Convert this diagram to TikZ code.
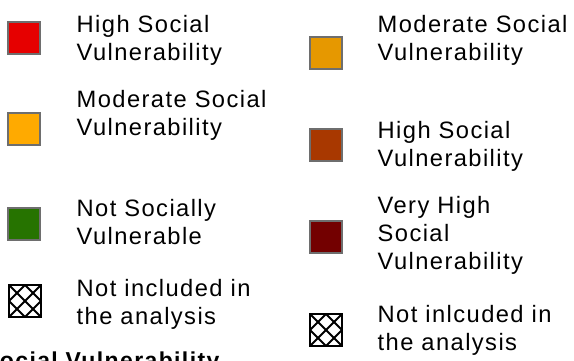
\documentclass[tikz,border=0pt]{standalone}
\usepackage{fontspec}
\newfontfamily\legendfont{Liberation Sans}[LetterSpace=6]
\usetikzlibrary{positioning}

\definecolor{highred}{RGB}{230,0,0}
\definecolor{modorange}{RGB}{255,170,0}
\definecolor{notgreen}{RGB}{38,115,0}
\definecolor{modamber}{RGB}{230,152,0}
\definecolor{highbrown}{RGB}{168,56,0}
\definecolor{veryhigh}{RGB}{115,0,0}
\definecolor{swatchgray}{RGB}{110,110,110}

\begin{document}
\begin{tikzpicture}[x=1bp,y=-1bp,
  swatch/.style={rectangle,draw=swatchgray,line width=2bp,minimum size=32bp,inner sep=0pt},
  hatch/.style={rectangle,draw=black,line width=2bp,minimum size=32bp,inner sep=0pt,
    path picture={
      \draw[line width=1.8bp] (path picture bounding box.north west) -- (path picture bounding box.south east);
      \draw[line width=1.8bp] (path picture bounding box.north east) -- (path picture bounding box.south west);
      \draw[line width=1.8bp] (path picture bounding box.north) -- (path picture bounding box.east)
        -- (path picture bounding box.south) -- (path picture bounding box.west) -- cycle;}},
  entry/.style={anchor=base west,align=left,inner sep=0pt,
    font=\legendfont\fontsize{23.7bp}{28bp}\selectfont}]

    \useasboundingbox (0,0) rectangle (574,360);
    \clip (0,0) rectangle (574,360);

    % left legend (text placed at the baseline of its last line)
    \node[swatch,fill=highred] (s1) at (24,37.5) {};
    \node[swatch,fill=modorange] (s2) at (24,128.5) {};
    \node[swatch,fill=notgreen] (s3) at (24,223.5) {};
    \node[hatch] (s4) at (25,301) {};

    \node[entry] (t1) at (76.5,60) {High Social\\Vulnerability};
    \node[entry] (t2) at (76.5,135) {Moderate Social\\Vulnerability};
    \node[entry] (t3) at (76.5,244) {Not Socially\\Vulnerable};
    \node[entry] (t4) at (76.5,324) {Not included in\\the analysis};

    \node[anchor=base west,inner sep=0pt,
      font=\legendfont\bfseries\fontsize{23bp}{28bp}\selectfont] (title) at (-17,368.5) {Social Vulnerability};

    % right legend
    \node[swatch,fill=modamber] (s5) at (326,53) {};
    \node[swatch,fill=highbrown] (s6) at (326,145) {};
    \node[swatch,fill=veryhigh] (s7) at (326,237) {};
    \node[hatch] (s8) at (326,330) {};

    \node[entry] (t5) at (377.5,60) {Moderate Social\\Vulnerability};
    \node[entry] (t6) at (377.5,166) {High Social\\Vulnerability};
    \node[entry] (t7) at (377.5,269) {Very High\\Social\\Vulnerability};
    \node[entry] (t8) at (377.5,350) {Not inlcuded in\\the analysis};

\end{tikzpicture}
\end{document}
